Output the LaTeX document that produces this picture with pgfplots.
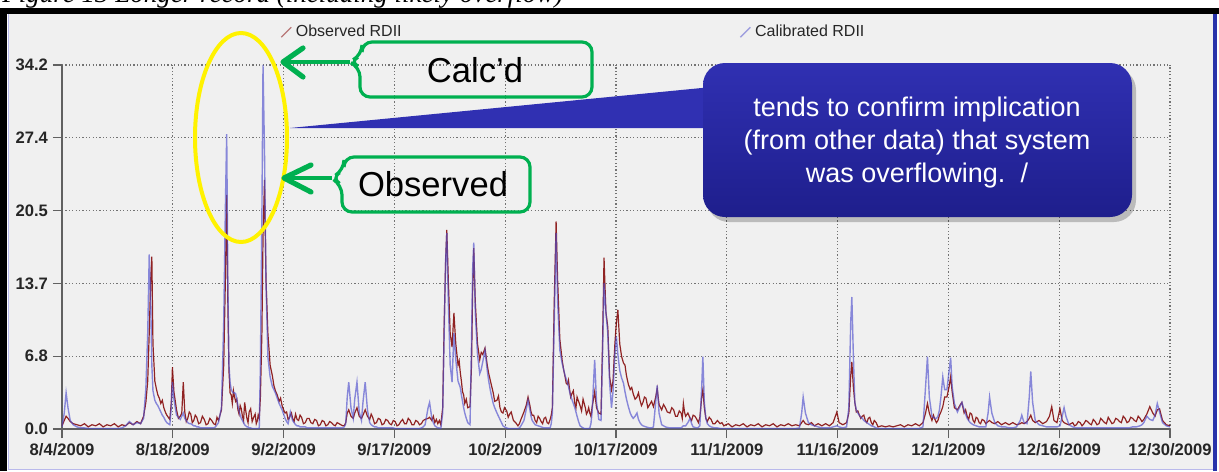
\documentclass[border=0pt]{standalone}
\usepackage{pgfplots}
\pgfplotsset{compat=1.18}
\usepackage{pgfplotstable}
\usepackage{fontspec}
\setmainfont{Liberation Sans}
\newfontfamily\capfont{Liberation Serif}

\definecolor{panel}{HTML}{F0F0F0}
\definecolor{obsred}{RGB}{128,0,0}
\definecolor{calblue}{RGB}{80,80,205}
\definecolor{callgreen}{RGB}{0,176,80}
\definecolor{boxtop}{RGB}{48,48,178}
\definecolor{boxbot}{RGB}{30,30,140}

\pgfplotstableread{
d obs cal
0 0.3 0.2
0.3 0.8 1.5
0.55 1.2 3.4
0.8 1.0 2.0
1.1 0.7 0.8
1.5 0.5 0.4
2 0.4 0.2
2.5 0.3 0.1
3 0.5 0.1
3.5 0.2 0.05
4 0.4 0.05
4.5 0.3 0.05
5 0.5 0.05
5.5 0.2 0.05
6 0.4 0.05
6.5 0.3 0.05
7 0.5 0.05
7.5 0.2 0.05
8 0.4 0.1
8.5 0.3 0.3
9 0.6 0.7
9.5 0.4 0.4
10 0.7 0.6
10.5 0.5 0.5
10.9 1.2 1.0
11.2 2.5 3.8
11.45 4.5 9.0
11.65 9 16.4
11.85 14 12
12.0 16.2 6
12.15 8 3.6
12.4 4.5 2.7
12.6 3.8 2.4
12.8 3.2 2.2
13.0 2.9 1.9
13.2 2.4 1.6
13.4 2.7 1.3
13.6 2.0 1.1
13.8 1.6 0.8
14.0 1.3 0.6
14.4 0.9 0.4
14.6 2.5 2.0
14.75 5.8 4.4
14.95 3.5 2.8
15.3 1.8 1.3
15.55 1.0 1.1
15.8 1.2 0.9
16.0 1.5 1.2
16.2 4.4 1.5
16.4 1.6 1.0
16.6 0.7 0.8
16.8 1.0 0.6
17.0 1.6 0.5
17.2 1.4 0.5
17.4 0.6 0.4
17.6 0.8 0.3
17.8 1.3 0.3
18 1.1 0.2
18.25 0.5 0.2
18.5 0.6 0.1
18.75 1.2 0.1
19 0.9 0.1
19.25 0.4 0.1
19.5 0.5 0.1
19.75 1.0 0.1
20 0.8 0.1
20.25 0.5 0.1
20.5 0.4 0.2
20.7 1.1 0.4
20.9 0.8 0.6
21.3 1.8 2.0
21.6 6 10
21.85 15 22
22.0 22 27.7
22.15 12 14
22.3 5.5 6
22.45 3.4 4.4
22.6 3.2 3.7
22.75 2.4 3.5
22.9 3.6 3.4
23.05 3.0 3.4
23.2 2.6 3.3
23.35 2.8 2.8
23.5 1.8 2.2
23.65 1.4 1.7
23.8 2.2 1.3
23.95 1.9 1.0
24.1 1.2 0.8
24.25 0.8 0.6
24.4 2.5 0.4
24.55 1.7 0.3
24.7 1.0 0.2
24.85 0.6 0.2
25 1.6 0.1
25.2 1.9 0.1
25.4 0.7 0.05
25.6 1.1 0.05
25.8 1.4 0.05
25.95 0.5 0.05
26.1 0.8 0.05
26.2 1.3 0.05
26.35 1.0 0.1
26.5 3 6
26.7 9 20
26.85 18 34.2
27.05 23.4 26
27.25 14 13.7
27.5 9 6.8
27.8 6 4.9
28.1 5 4.0
28.3 4.1 3.7
28.5 3.6 3.4
28.75 3.2 2.9
29 2.6 2.4
29.2 2.9 2.1
29.4 2.2 1.8
29.6 1.8 1.4
29.8 1.5 1.0
30.0 1.6 0.7
30.2 0.9 0.5
30.35 1.0 1.0
30.5 1.3 1.6
30.65 1.5 1.2
30.8 1.0 0.8
31.0 0.7 0.6
31.2 1.4 0.4
31.4 0.9 0.3
31.6 0.8 0.3
31.8 1.3 0.2
32 1.1 0.2
32.25 0.5 0.2
32.5 0.6 0.2
32.75 1.0 0.1
33 1.0 0.1
33.25 0.6 0.1
33.5 0.5 0.1
33.75 0.9 0.1
34 0.8 0.1
34.25 0.3 0.1
34.5 0.4 0.1
34.75 0.8 0.1
35 0.7 0.1
35.25 0.3 0.1
35.5 0.4 0.1
35.75 0.7 0.1
36 0.6 0.1
36.25 0.4 0.1
36.5 0.3 0.1
36.75 0.6 0.1
37 0.5 0.1
37.25 0.4 0.1
37.5 0.3 0.1
37.7 0.3 0.2
37.9 0.6 0.5
38.1 1.5 3.0
38.3 1.8 4.4
38.6 1.2 2.0
38.9 1.0 1.0
39.1 1.5 2.8
39.4 2.0 4.4
39.7 1.2 1.6
40.0 1.0 0.8
40.2 1.3 2.5
40.5 1.8 4.4
40.8 1.2 1.8
41.1 0.9 0.6
41.3 1.4 0.4
41.5 1.1 0.3
41.75 0.5 0.2
42 0.6 0.2
42.25 1.0 0.1
42.5 0.9 0.1
42.75 0.4 0.1
43 0.5 0.1
43.25 0.9 0.1
43.5 0.8 0.1
43.75 0.5 0.1
44 0.4 0.1
44.25 0.8 0.1
44.5 0.7 0.05
44.75 0.3 0.05
45 0.4 0.05
45.25 0.7 0.05
45.5 0.9 0.05
45.75 0.5 0.05
46 0.5 0.05
46.25 1.0 0.05
46.5 0.8 0.05
46.75 0.4 0.05
47 0.4 0.05
47.25 0.8 0.05
47.5 0.7 0.05
47.75 0.4 0.05
48 0.5 0.1
48.25 0.8 0.2
48.5 0.9 0.4
48.9 1.0 2.0
49.1 1.1 2.5
49.4 0.8 1.0
49.6 1.2 0.6
49.8 0.6 0.3
50.0 0.9 0.2
50.2 0.5 0.1
50.4 0.8 0.1
50.6 0.4 0.05
50.85 2 1.5
51.05 10 9
51.25 16 16
51.4 18.7 18.4
51.6 14 12
51.85 9 6
52.1 7.7 4.4
52.35 10.9 9.0
52.6 8 6.5
52.9 6 4.5
53.05 6.4 4.2
53.2 5.3 3.9
53.35 4.5 3.2
53.5 3.5 2.6
53.65 3.2 2.0
53.8 2.4 1.5
54.0 2.8 1.0
54.2 2.0 0.6
54.5 2.1 0.4
54.7 6 8
54.85 13 15
55.0 17 17.5
55.2 12 11
55.5 8 7
55.8 6.5 5.2
56.0 7.2 5.6
56.2 7 6.3
56.5 7.6 7.4
56.8 6 5.5
57.0 5.2 4.5
57.2 4.6 3.7
57.4 4.0 3.0
57.6 3.4 2.4
57.8 2.6 2.0
58.1 2.7 1.5
58.3 3.1 1.2
58.5 2.0 0.9
58.7 1.6 0.6
58.9 1.5 0.3
59.1 2.0 0.2
59.4 1.7 0.1
59.6 1.1 0.05
59.8 1.4 0.05
60.0 1.6 0.05
60.3 0.8 0.05
60.6 0.6 0.05
60.9 0.3 0.05
61.1 0.5 0.1
61.3 0.9 0.3
61.7 1.6 0.8
62.0 2.2 1.8
62.25 3.0 2.7
62.5 2.2 1.8
62.65 1.6 1.2
62.8 1.3 0.8
63.0 1.3 0.6
63.2 0.8 0.4
63.4 0.6 0.35
63.6 1.2 0.3
63.8 1.0 0.25
64 0.7 0.2
64.2 0.5 0.15
64.4 1.0 0.1
64.6 1.1 0.1
64.8 0.6 0.1
65.0 0.5 0.1
65.2 0.9 0.1
65.35 1.3 0.5
65.5 2 1.5
65.75 12 10
66.0 19.5 18.4
66.2 14 12
66.5 8.4 7.4
66.8 6.5 6.2
67.0 5.6 5.6
67.2 4.9 5.0
67.35 4.3 4.7
67.5 4.2 4.4
67.65 4.6 4.0
67.8 3.7 3.5
67.95 3.0 3.1
68.1 3.3 2.8
68.3 3.6 2.4
68.5 2.4 2.0
68.65 2.0 1.6
68.8 3.0 1.2
69.0 2.6 0.7
69.2 2.2 0.3
69.4 1.7 0.2
69.6 2.8 0.1
69.75 2.4 0.05
69.9 2.0 0.05
70.05 1.4 0.05
70.2 1.6 0.05
70.35 2.0 0.05
70.5 1.5 0.1
70.65 1.2 0.5
70.8 2.0 1.5
71.15 3.5 6.5
71.4 2.0 2.5
71.7 1.5 0.9
72.0 1.4 0.8
72.2 8 7
72.4 16.1 13.7
72.65 11 11
72.9 9.6 9.0
73.15 4.9 4.3
73.4 3.7 2.0
73.6 4.5 3.5
73.85 8 7
74.05 10 8.7
74.25 11.2 7
74.5 8 5.5
74.75 6.8 4.8
75.0 6.2 4.3
75.2 6.0 3.5
75.4 5 2.8
75.65 4.2 2.1
75.9 3.7 1.5
76.1 3.9 1.2
76.3 3.3 1.0
76.55 2.8 1.2
76.8 3.0 1.5
77.0 3.4 0.9
77.2 2.7 0.6
77.4 2.2 0.4
77.6 2.5 0.3
77.8 3.0 0.25
78 2.9 0.2
78.25 2.0 0.15
78.5 2.3 0.1
78.75 2.6 0.1
79 2.1 0.2
79.3 3 2.5
79.5 3.8 4.1
79.75 2.3 1.5
80.1 1.8 0.4
80.35 2.3 0.3
80.6 2.0 0.2
80.85 1.6 0.15
81.2 1.5 0.1
81.45 2.0 0.1
81.7 1.8 0.1
81.95 1.2 0.1
82.2 1.2 0.1
82.45 1.7 0.1
82.7 1.5 0.1
82.85 1.0 0.2
83.0 2.4 0.3
83.15 1.6 0.3
83.3 1.2 0.3
83.6 1.5 0.6
83.9 1.0 1.0
84.1 0.8 0.5
84.3 1.3 0.2
84.55 1.2 0.15
84.8 0.9 0.1
85.0 0.6 0.15
85.2 1.1 0.3
85.45 3 4
85.6 3.7 6.8
85.8 2.0 2.5
86.0 1.0 1.0
86.2 0.7 0.5
86.45 1.1 0.3
86.7 0.9 0.2
86.95 0.5 0.15
87.2 0.5 0.1
87.55 0.8 0.1
87.9 0.5 0.05
88.15 0.6 0.05
88.4 0.3 0.05
89 0.5 0.05
89.5 0.2 0.05
90 0.4 0.05
90.5 0.3 0.05
91 0.5 0.05
91.5 0.2 0.05
92 0.4 0.05
92.5 0.3 0.05
93 0.5 0.05
93.5 0.2 0.05
94 0.4 0.05
94.5 0.3 0.05
95 0.5 0.05
95.5 0.2 0.05
96 0.4 0.05
96.5 0.3 0.05
97 0.5 0.05
97.5 0.3 0.05
98 0.4 0.05
98.5 0.3 0.1
98.8 0.6 1.5
99.0 0.8 3.0
99.3 0.5 1.5
99.7 0.4 0.6
100.1 0.6 0.4
100.5 0.3 0.3
101 0.5 0.2
101.5 0.3 0.1
102 0.5 0.1
102.5 0.3 0.1
103 0.6 0.2
103.5 1.6 0.3
103.8 0.6 0.2
104.3 0.4 0.1
104.8 0.6 0.2
105.1 1.5 2
105.35 5 10
105.5 6.3 12.4
105.7 4 7
105.9 2.5 2.5
106.1 1.6 1.8
106.3 1.7 1.5
106.5 1.3 1.3
106.7 1.0 1.1
106.9 1.2 1.0
107.1 1.3 0.8
107.3 0.8 0.7
107.5 0.6 0.6
107.7 1.0 0.5
107.9 1.1 0.4
108.1 0.6 0.3
108.3 0.4 0.25
108.5 0.8 0.2
108.75 0.6 0.1
109 0.2 0.05
109.5 0.3 0.05
110 0.2 0.05
110.5 0.3 0.05
111 0.2 0.05
111.5 0.3 0.05
112 0.4 0.05
112.5 0.2 0.05
113 0.4 0.05
113.5 0.3 0.05
114 0.5 0.05
114.5 0.3 0.05
115 0.6 0.2
115.35 1.5 4
115.6 2.4 6.8
115.85 1.5 3
116.2 0.8 1.2
116.4 1.3 1.1
116.6 0.9 1.0
116.8 0.6 1.0
117 0.8 1.2
117.2 1.3 1.8
117.4 1.6 3
117.65 2.1 4.9
117.9 3.0 3.7
118.2 3.0 3.7
118.5 4.0 5.5
118.7 4.9 6.7
118.9 3.5 4
119.2 2.0 2.4
119.6 1.8 1.6
120.0 2.3 2.2
120.2 2.5 2.5
120.5 1.5 1.8
120.7 1.8 1.4
120.9 1.2 1.0
121.1 0.9 0.8
121.3 1.5 0.6
121.5 1.4 0.5
121.7 0.8 0.4
121.9 0.6 0.35
122.1 1.1 0.3
122.3 1.0 0.25
122.5 0.6 0.2
122.7 0.5 0.2
122.9 0.9 0.2
123.15 0.8 0.2
123.4 0.5 0.2
123.7 0.7 1.5
123.9 0.8 3.0
124.2 0.6 1.5
124.6 0.5 0.6
125 0.7 0.3
125.5 0.4 0.2
126 0.6 0.2
126.5 0.4 0.1
127 0.6 0.1
127.5 0.4 0.2
128 0.5 0.8
128.2 0.6 1.3
128.5 0.5 0.6
128.9 0.7 0.5
129.2 1.0 3
129.4 1.3 5.4
129.65 0.8 2.5
130 0.6 0.8
130.5 0.8 0.4
131 0.5 0.3
131.5 0.7 0.2
131.9 1.2 0.2
132.2 2.1 0.2
132.5 0.8 0.2
132.9 0.6 0.2
133.3 1.9 0.3
133.6 0.8 1.2
133.85 0.6 2.0
134.1 0.5 1.2
134.5 0.4 0.4
135 0.6 0.2
135.25 0.3 0.15
135.5 0.4 0.1
135.75 0.7 0.1
136 0.6 0.1
136.25 0.3 0.1
136.5 0.5 0.1
136.75 0.8 0.1
137 0.7 0.1
137.25 0.5 0.1
137.5 0.4 0.1
137.75 0.9 0.1
138 0.7 0.1
138.25 0.4 0.1
138.5 0.5 0.1
138.75 1.0 0.1
139 0.8 0.1
139.25 0.6 0.1
139.5 0.5 0.1
139.75 1.1 0.1
140 0.8 0.1
140.25 0.5 0.1
140.5 0.6 0.1
140.75 1.0 0.1
141 0.9 0.1
141.25 0.7 0.1
141.5 0.6 0.1
141.75 1.2 0.1
142 1.0 0.1
142.25 0.6 0.1
142.5 0.7 0.1
142.75 1.1 0.15
143 1.0 0.2
143.25 0.8 0.2
143.5 0.7 0.2
143.75 1.2 0.25
144 1.0 0.3
144.25 0.7 0.4
144.5 0.9 0.6
144.9 1.4 1.2
145.3 2.1 0.9
145.7 1.5 0.8
146.0 1.2 1.3
146.3 1.8 2.4
146.6 1.9 1.6
147.0 0.8 0.6
147.5 0.4 0.3
148 0.3 0.2
}\rdii

\begin{document}
\begin{tikzpicture}
% ---------- frame and panel (pixel coordinates, y downwards)
\begin{scope}[x=0.5pt,y=-0.5pt]
  \fill[white] (0,0) rectangle (1219,471);
  \node[anchor=base west, inner sep=0pt,
        font=\capfont\itshape\fontsize{13.5}{16}\selectfont] at (2,3)
        {Figure 13 Longer record (including likely overflow)};
  \fill[panel] (8,14) rectangle (1214,470);
  \fill[black] (0,8) rectangle (1219,14);
  \fill[black] (0,8) rectangle (7,471);
  \draw[color={rgb,255:red,185;green,185;blue,235}, line width=0.8pt] (8.5,14) -- (8.5,469.5) -- (1213,469.5);
  \fill[color={rgb,255:red,40;green,50;blue,170}] (1213,14) rectangle (1217,471);
\end{scope}

\begin{axis}[
  at={(31pt,-214.5pt)}, anchor=south west,
  scale only axis, width=554pt, height=182pt,
  xmin=0, xmax=148, ymin=0, ymax=34.2,
  axis x line*=bottom, axis y line*=left,
  axis line style={draw=black!62, line width=0.75pt, -},
  xtick={0,14.8,29.6,44.4,59.2,74,88.8,103.6,118.4,133.2,148},
  xticklabels={8/4/2009,8/18/2009,9/2/2009,9/17/2009,10/2/2009,10/17/2009,11/1/2009,11/16/2009,12/1/2009,12/16/2009,12/30/2009},
  ytick={0,6.84,13.68,20.52,27.36,34.2},
  yticklabels={0.0,6.8,13.7,20.5,27.4,34.2},
  tick align=outside, major tick length=4.5pt,
  tick style={draw=black!62, line width=0.6pt},
  ticklabel style={font=\bfseries\fontsize{8.3}{10}\selectfont, text=black!85},
  yticklabel style={xshift=1pt},
  xticklabel style={yshift=1pt},
  grid=major,
  grid style={draw=black!55, line width=0.6pt, dash pattern=on 0.6pt off 1.1pt},
  legend columns=2,
  legend style={at={(0.197,1.09)}, anchor=west, draw=none, fill=none,
    font=\fontsize{8}{10}\selectfont, text=black!85, inner sep=0pt,
    /tikz/every even column/.append style={column sep=167pt}},
  legend image code/.code={\draw[#1,opacity=0.5] (0pt,-2.5pt) -- (5pt,2.5pt);},
]
\addplot[obsred, line width=0.6pt, opacity=0.85] table[x=d,y=obs]{\rdii};
\addlegendentry{Observed RDII}
\addplot[calblue, line width=0.7pt, opacity=0.65] table[x=d,y=cal]{\rdii};
\addlegendentry{Calibrated RDII}
\end{axis}

% ---------- annotations
\begin{scope}[x=0.5pt,y=-0.5pt]
  % yellow ellipse
  \draw[yellow, line width=2pt] (241,137.5) ellipse [x radius=46, y radius=104.5];
  % Calc'd callout
  \draw[callgreen, line width=1.6pt, rounded corners=5pt]
     (362,55) -- (362,42) -- (592,42) -- (592,97) -- (360,97) -- (360,67) -- (349,62) -- cycle;
  \draw[callgreen, line width=2.2pt] (350,62) -- (285,62);
  \draw[callgreen, line width=2.6pt, line cap=round, line join=round] (303,48) -- (283,62) -- (303,77);
  \node[font=\fontsize{17.3}{20}\selectfont] at (475,70) {Calc’d};
  % Observed callout
  \draw[callgreen, line width=1.6pt, rounded corners=5pt]
     (344,170) -- (344,157) -- (530,157) -- (530,212) -- (342,212) -- (342,185) -- (331,178) -- cycle;
  \draw[callgreen, line width=2.2pt] (332,178) -- (286,178);
  \draw[callgreen, line width=2.6pt, line cap=round, line join=round] (311,165) -- (284,178) -- (311,192);
  \node[font=\fontsize{17.3}{20}\selectfont] at (433,184) {Observed};
  % blue callout
  \fill[black, opacity=0.22, rounded corners=11pt] (707,68) rectangle (1136,222);
  \fill[boxtop] (290,128) -- (712,87) -- (712,128) -- cycle;
  \path[top color=boxtop, bottom color=boxbot, rounded corners=11pt] (703,63) rectangle (1132,217);
  \node[text=white, align=center, font=\fontsize{13.5}{16.5}\selectfont] at (917,143)
     {tends to confirm implication\\(from other data) that system\\was overflowing.\ \ /};
  \pgfresetboundingbox
  \path[use as bounding box] (0,0) rectangle (1219,471);
\end{scope}
\end{tikzpicture}
\end{document}
